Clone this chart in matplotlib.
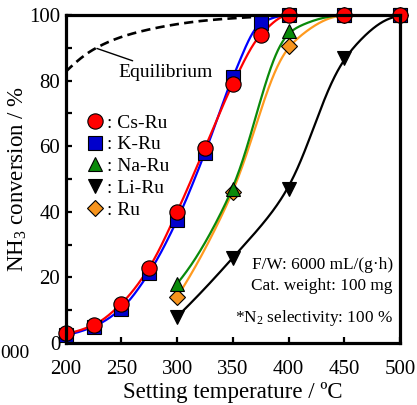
import numpy as np
import matplotlib
matplotlib.use("Agg")
import matplotlib.pyplot as plt
from matplotlib.lines import Line2D
from matplotlib.ticker import MultipleLocator

plt.rcParams['font.family'] = ['Liberation Serif', 'DejaVu Serif']
plt.rcParams['mathtext.fontset'] = 'custom'
plt.rcParams['mathtext.rm'] = 'Liberation Serif'
plt.rcParams['mathtext.it'] = 'Liberation Serif:italic'

# ---------------- data ----------------
temp_full = [200, 225, 250, 275, 300, 325, 350, 375, 400, 450, 500]
cs_ru = [3, 5.5, 12, 23, 40, 59.5, 79, 94, 100, 100, 100]
k_ru = [2.5, 5, 10.5, 21.5, 37.5, 58, 81, 97.5, 100, 100, 100]

temp_high = [300, 350, 400, 450, 500]
na_ru = [18, 47, 95, 100, 100]
li_ru = [8, 26, 47, 87, 100]
ru = [14, 46, 90.5, 100, 100]

eq_temp = [200, 225, 250, 275, 300, 325, 350, 375, 400, 450, 500]
eq_conv = [82.7, 89.5, 93.3, 95.6, 97.2, 98.3, 99.0, 99.5, 99.8, 100, 100]

series_labels = ['Cs-Ru', 'K-Ru', 'Na-Ru', 'Li-Ru', 'Ru']


def pchip(x, y, xn):
    x = np.asarray(x, float)
    y = np.asarray(y, float)
    h = np.diff(x)
    delta = np.diff(y) / h
    n = len(x)
    d = np.zeros(n)
    for k in range(1, n - 1):
        if delta[k - 1] * delta[k] > 0:
            w1 = 2 * h[k] + h[k - 1]
            w2 = h[k] + 2 * h[k - 1]
            d[k] = (w1 + w2) / (w1 / delta[k - 1] + w2 / delta[k])
    def end(h0, h1, d0, d1):
        v = ((2 * h0 + h1) * d0 - h0 * d1) / (h0 + h1)
        if np.sign(v) != np.sign(d0):
            v = 0
        elif np.sign(d0) != np.sign(d1) and abs(v) > abs(3 * d0):
            v = 3 * d0
        return v
    d[0] = end(h[0], h[1], delta[0], delta[1])
    d[-1] = end(h[-1], h[-2], delta[-1], delta[-2])
    xn = np.asarray(xn, float)
    idx = np.clip(np.searchsorted(x, xn) - 1, 0, n - 2)
    t = (xn - x[idx]) / h[idx]
    h00 = 2 * t**3 - 3 * t**2 + 1
    h10 = t**3 - 2 * t**2 + t
    h01 = -2 * t**3 + 3 * t**2
    h11 = t**3 - t**2
    return (h00 * y[idx] + h10 * h[idx] * d[idx] + h01 * y[idx + 1]
            + h11 * h[idx] * d[idx + 1])


def smooth_curve(x, y, sigma):
    """PCHIP through the points, lightly Gaussian-smoothed to remove kinks."""
    step = 0.5
    xs = np.arange(x[0], x[-1] + step / 2, step)
    ys = pchip(x, y, xs)
    if sigma <= 0:
        return xs, ys
    npad = int(4 * sigma / step)
    s0 = (ys[1] - ys[0]) / step
    left = ys[0] + s0 * step * np.arange(-npad, 0)
    right = np.full(npad, ys[-1])
    yp = np.concatenate([left, ys, right])
    k = np.arange(-npad, npad + 1) * step
    ker = np.exp(-0.5 * (k / sigma) ** 2)
    ker /= ker.sum()
    ysm = np.convolve(yp, ker, mode='same')[npad:npad + len(ys)]
    return xs, ysm


fig = plt.figure(figsize=(4.17, 4.05), dpi=100)
ax = fig.add_axes([0.1576, 0.153, 0.8014, 0.810])

# equilibrium
xe, ye = smooth_curve(eq_temp, eq_conv, 0)
ax.plot(xe, ye, color='black', lw=1.9, dashes=(3.5, 2.0), zorder=2)

styles = [
    # data x, y, line color, marker, face, size, smoothing
    (temp_high, li_ru, 'black', 'v', 'black', 10, 9),
    (temp_high, ru, '#ff9a1f', 'D', '#f7941d', 8, 7),
    (temp_high, na_ru, '#0a8a0a', '^', '#0a8a0a', 10.5, 7),
    (temp_full, k_ru, '#0000ff', 's', '#0000cc', 10, 3),
    (temp_full, cs_ru, '#ff0000', 'o', '#ff0000', 11, 3),
]
for i, (xx, yy, lc, mk, fc, ms, sg) in enumerate(styles):
    xs, ys = smooth_curve(xx, yy, sg)
    ax.plot(xs, ys, color=lc, lw=1.6, zorder=3 + i)
    ax.plot(xx, yy, linestyle='none', marker=mk, markerfacecolor=fc,
            markeredgecolor='black', markeredgewidth=0.8, markersize=ms,
            zorder=10 + i, clip_on=False)

ax.set_xlim(200, 500)
ax.set_ylim(0, 100)
ax.xaxis.set_major_locator(MultipleLocator(50))
ax.yaxis.set_major_locator(MultipleLocator(20))
ax.yaxis.set_minor_locator(MultipleLocator(10))
ax.tick_params(axis='both', which='both', direction='in', length=4.5,
               width=1.6, labelsize=15, top=False, right=False)
ax.tick_params(axis='x', pad=12)
ax.tick_params(axis='y', pad=4)
for s in ax.spines.values():
    s.set_linewidth(2.3)
    s.set_zorder(20)

ax.set_xlabel('Setting temperature / ºC', fontsize=16.5, labelpad=2.5)
ax.set_ylabel('NH$_3$ conversion / %', fontsize=16.5, labelpad=0)

# legend
handles = [
    Line2D([], [], linestyle='none', marker='o', markerfacecolor='#ff0000',
           markeredgecolor='black', markeredgewidth=0.8, markersize=11),
    Line2D([], [], linestyle='none', marker='s', markerfacecolor='#0000cc',
           markeredgecolor='black', markeredgewidth=0.8, markersize=10),
    Line2D([], [], linestyle='none', marker='^', markerfacecolor='#0a8a0a',
           markeredgecolor='black', markeredgewidth=0.8, markersize=10.5),
    Line2D([], [], linestyle='none', marker='v', markerfacecolor='black',
           markeredgecolor='black', markeredgewidth=0.8, markersize=10),
    Line2D([], [], linestyle='none', marker='D', markerfacecolor='#f7941d',
           markeredgecolor='black', markeredgewidth=0.8, markersize=8),
]
ax.legend(handles, [': ' + s for s in series_labels], loc='upper left',
          bbox_to_anchor=(0.018, 0.74), frameon=False, fontsize=14,
          handlelength=1.0, handletextpad=0.1, labelspacing=0.22,
          borderaxespad=0.3)

ax.annotate('Equilibrium', xy=(228, 89.8), xytext=(247, 82.6),
            fontsize=14, ha='left', va='center',
            arrowprops=dict(arrowstyle='-', color='black', lw=1.0,
                            shrinkA=0, shrinkB=0))

ax.text(0.979, 0.238, 'F/W: 6000 mL/(g·h)', transform=ax.transAxes,
        ha='right', va='center', fontsize=12.4)
ax.text(0.979, 0.174, 'Cat. weight: 100 mg', transform=ax.transAxes,
        ha='right', va='center', fontsize=12.4)
ax.text(0.979, 0.076, '*N$_2$ selectivity: 100 %', transform=ax.transAxes,
        ha='right', va='center', fontsize=12.4)

fig.text(0.0, 1 - 353 / 405, '000', ha='left', va='center', fontsize=14)

fig.savefig('out.png', dpi=100)
